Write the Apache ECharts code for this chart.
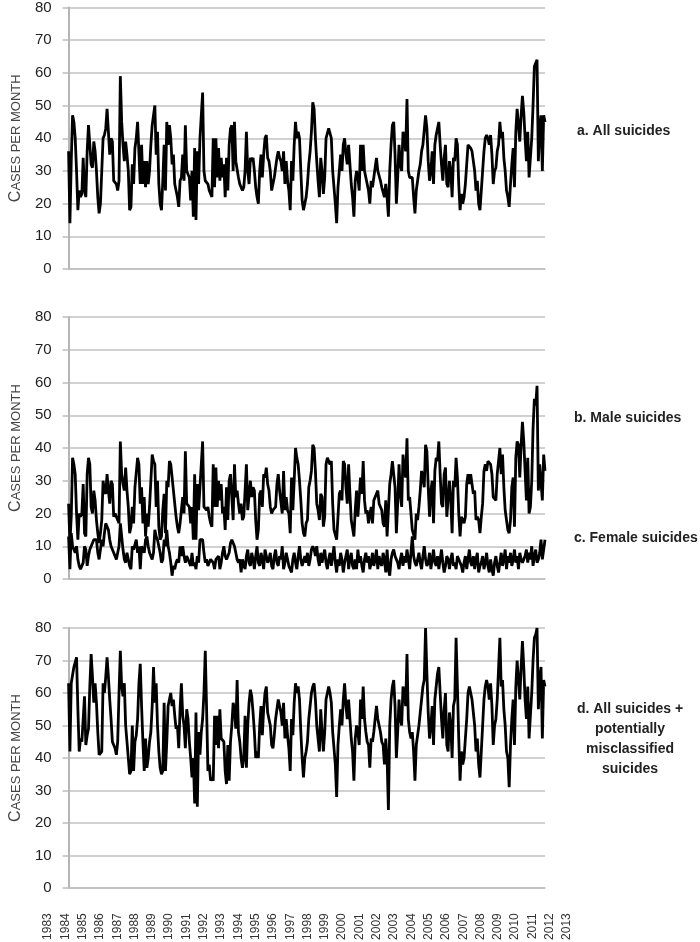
<!DOCTYPE html>
<html>
<head>
<meta charset="utf-8">
<script src="https://cdn.jsdelivr.net/npm/echarts@6/dist/echarts.min.js"></script>
<style>
  html, body { margin: 0; padding: 0; background: #fff; }
  #container { width: 700px; height: 942px; }
</style>
</head>
<body>
<div id="container"></div>
<script>
// tick labels for the bottom axis
var yearLabels = ['1983','1984','1985','1986','1987','1988','1989','1990','1991','1992',
  '1993','1994','1995','1996','1997','1998','1999','2000','2001','2002','2003','2004',
  '2005','2006','2007','2008','2009','2010','2011','2012','2013'];

// a. all suicides, monthly 1983-2012 (one row per year)
var allSuicides = [
  36,14,33,47,45,40,30,18,24,22,23,34,
  24,22,36,44,44,32,31,39,36,30,22,17,
  20,30,40,41,43,49,42,35,40,39,27,27,
  26,24,27,59,45,38,33,39,35,30,18,19,
  32,26,37,40,45,45,26,38,26,33,25,33,
  26,30,38,44,44,50,35,42,26,20,18,27,
  38,24,45,38,44,40,32,35,26,24,22,19,
  27,28,35,27,44,30,29,28,21,30,16,37,
  15,36,26,40,40,54,30,27,27,26,24,23,
  22,40,25,40,28,37,27,34,28,32,22,34,
  24,38,43,44,30,45,33,33,28,26,25,24,
  25,30,42,30,26,34,33,34,30,25,22,20,
  30,35,28,35,40,41,34,33,30,24,24,28,
  31,34,36,34,33,30,36,26,33,27,24,18,
  33,27,38,45,40,42,40,30,21,18,20,22,
  26,32,36,42,51,49,40,33,27,22,34,30,
  23,28,40,40,43,43,40,30,25,20,14,25,
  30,35,30,38,40,35,32,38,32,26,22,16,
  27,30,28,24,38,30,38,30,28,26,24,20,
  27,25,28,31,34,30,30,27,25,25,22,26,
  22,16,30,38,44,45,35,20,28,38,32,30,
  42,40,36,52,30,28,28,28,22,17,24,24,
  30,32,36,38,38,47,43,33,27,30,36,26,
  38,41,43,45,38,32,27,34,38,26,25,33,
  30,22,34,33,40,38,26,18,23,20,22,26,
  32,38,38,37,36,33,30,24,27,20,18,24,
  30,36,40,41,40,38,41,35,26,30,31,36,
  38,45,40,42,34,30,24,22,19,26,32,37,
  25,42,49,44,39,47,53,48,40,33,42,28,
  28,40,50,62,62,64,33,43,47,30,47,45
];

// b. male suicides
var maleSuicides = [
  23,11,19,37,35,32,20,12,20,19,20,29,
  14,13,32,37,35,22,20,27,24,18,14,11,
  14,18,30,27,26,32,27,23,30,29,19,20,
  20,18,17,42,32,29,27,34,27,22,14,16,
  22,17,28,28,37,35,23,28,17,25,13,20,
  16,22,30,38,36,35,22,30,16,12,13,21,
  26,14,30,28,36,35,31,31,23,19,16,14,
  17,21,25,20,39,23,23,22,17,22,12,32,
  12,29,21,28,28,42,22,22,21,22,19,17,
  16,35,22,34,22,30,24,29,20,22,15,28,
  18,30,32,32,18,35,25,27,23,20,23,18,
  19,27,35,21,21,30,25,28,27,18,12,15,
  26,27,22,32,31,34,29,27,22,20,21,21,
  22,29,32,27,27,20,33,21,25,21,20,14,
  31,21,30,40,37,35,30,24,17,14,13,17,
  18,28,30,33,41,40,33,23,21,18,26,25,
  16,19,35,37,37,35,36,23,15,15,12,19,
  26,27,24,36,35,28,23,35,26,18,18,13,
  21,27,19,19,31,26,36,24,20,21,17,17,
  22,17,24,25,25,27,23,22,21,17,16,24,
  13,13,29,32,36,36,28,14,23,35,26,22,
  38,33,31,43,24,25,20,15,15,12,20,18,
  22,27,33,31,28,41,39,28,19,27,30,17,
  33,37,36,42,32,23,22,32,34,19,19,30,
  24,14,30,28,37,31,20,13,19,18,17,19,
  29,32,29,32,32,26,27,18,19,18,14,19,
  23,33,35,33,36,36,35,32,25,25,24,32,
  36,40,32,38,28,21,21,15,14,18,28,31,
  16,37,42,41,31,41,48,42,33,24,37,20,
  22,30,46,55,53,59,27,35,35,24,38,33
];

// c. female suicides
var femaleSuicides = [
  13,3,14,10,10,8,10,6,4,3,3,5,
  10,9,4,7,9,10,11,12,12,12,8,6,
  6,12,10,14,17,17,15,12,10,10,8,7,
  6,6,10,17,13,9,6,5,8,8,4,3,
  10,9,9,12,8,10,3,10,9,8,12,13,
  10,8,8,6,8,15,13,12,10,8,5,6,
  12,10,15,10,8,5,1,4,3,5,6,5,
  10,7,10,7,5,7,6,6,4,8,4,5,
  3,7,5,12,12,12,8,5,6,4,5,6,
  6,5,3,6,6,7,3,5,8,10,7,6,
  6,8,11,12,12,10,8,6,5,6,2,6,
  6,3,7,9,5,4,8,6,3,7,10,5,
  4,8,6,3,9,7,5,6,8,4,3,7,
  9,5,4,7,6,10,3,5,8,6,4,4,
  2,6,8,5,3,7,10,6,4,4,7,5,
  8,4,6,9,10,9,7,10,6,4,8,5,
  7,9,5,3,6,8,4,7,10,5,2,6,
  4,8,6,2,5,7,9,3,6,8,4,3,
  6,3,9,5,7,4,2,6,8,5,7,3,
  5,8,4,6,9,3,7,5,4,8,6,2,
  9,3,1,6,8,9,7,6,5,3,6,8,
  4,7,5,9,6,3,8,13,7,5,4,6,
  8,5,3,7,10,6,4,5,8,3,6,9,
  5,4,7,3,6,9,5,2,4,7,6,3,
  6,8,4,5,3,7,6,5,4,2,5,7,
  3,6,9,5,4,7,3,6,8,2,4,5,
  7,3,5,8,4,2,6,3,1,5,7,4,
  2,5,8,4,6,9,3,7,5,8,4,6,
  9,5,7,3,8,6,5,6,7,9,5,8,
  6,10,4,7,9,5,6,8,12,6,9,12
];

// d. all suicides + potentially misclassified suicides
var allPlusMisclassified = [
  63,42,63,63,68,68,71,55,42,46,45,45,
  59,44,47,49,62,72,65,57,63,57,48,41,
  41,42,63,60,65,71,65,58,52,45,45,43,
  41,45,60,73,62,59,63,50,45,40,35,36,
  50,36,45,47,52,63,69,56,45,36,46,37,
  40,45,48,56,68,57,63,50,42,37,35,36,
  57,36,45,56,58,60,56,58,53,49,50,43,
  55,63,53,50,43,55,52,45,40,34,40,26,
  54,25,48,41,48,52,60,73,55,36,38,33,
  34,33,53,44,53,43,55,46,46,45,36,32,
  44,33,45,50,57,55,49,64,48,45,40,37,
  40,53,37,50,57,61,59,54,48,40,42,40,
  50,56,47,55,60,62,54,52,50,44,43,47,
  52,55,58,56,54,50,57,46,52,47,43,36,
  52,47,57,63,60,62,58,48,40,34,40,42,
  45,52,56,60,62,63,58,50,46,42,55,48,
  42,48,58,60,62,60,57,48,43,38,28,44,
  50,55,50,58,63,56,52,58,52,46,42,33,
  46,50,48,44,58,52,62,52,48,45,44,37,
  46,45,48,52,56,52,52,48,45,44,38,46,
  40,24,50,58,62,64,56,40,48,58,52,50,
  62,60,56,72,52,48,46,48,42,33,44,44,
  50,54,58,62,64,80,66,54,46,50,56,44,
  58,62,66,68,60,52,46,55,60,44,42,54,
  50,40,56,58,77,62,46,33,42,38,40,46,
  52,60,62,60,58,54,50,42,46,38,34,42,
  50,58,62,64,62,58,63,56,44,50,52,58,
  58,77,62,64,55,50,42,40,31,44,52,58,
  44,62,70,64,58,68,76,68,58,52,62,46,
  46,60,70,77,78,80,55,64,68,46,64,62
];

// month categories built from the year labels (1983-2012)
var months = [];
for (var i = 0; i < yearLabels.length - 1; i++) {
  for (var m = 1; m <= 12; m++) {
    months.push(yearLabels[i] + '-' + m);
  }
}

var fontMain = "'Liberation Sans', Arial, sans-serif";

function panelX(idx) {
  return {
    type: 'category',
    gridIndex: idx,
    data: months,
    boundaryGap: false,
    axisLine: { show: true, lineStyle: { color: '#bdbdbd', width: 1.5 } },
    axisTick: { show: false },
    axisLabel: { show: false },
    splitLine: { show: false }
  };
}

function panelY(idx) {
  return {
    type: 'value',
    gridIndex: idx,
    min: 0,
    max: 80,
    interval: 10,
    name: '{a|C}{b|ASES PER MONTH}',
    nameLocation: 'middle',
    nameRotate: 90,
    nameGap: 43,
    nameTextStyle: {
      rich: {
        a: { fontSize: 16, color: '#444', fontFamily: fontMain },
        b: { fontSize: 13, color: '#444', fontFamily: fontMain }
      }
    },
    axisLine: { show: true, lineStyle: { color: '#b5b5b5', width: 2 } },
    axisTick: { show: true, length: 6, lineStyle: { color: '#bdbdbd', width: 1.5 } },
    axisLabel: { fontSize: 15, color: '#222', fontFamily: fontMain, margin: 17 },
    splitLine: { show: true, lineStyle: { color: '#c2c2c2', width: 1.5 } }
  };
}

function lineSeries(data, xi) {
  return {
    type: 'line',
    xAxisIndex: xi,
    yAxisIndex: xi,
    data: data,
    symbol: 'none',
    lineStyle: { color: '#000', width: 2.8 },
    z: 3
  };
}

var dom = document.getElementById('container');
var myChart = echarts.init(dom, null, { renderer: 'canvas' });

var option = {
  backgroundColor: '#fff',
  animation: false,
  grid: [
    { left: 59, top: 5, width: 486, height: 264 },
    { left: 59, top: 317, width: 486, height: 262 },
    { left: 57, top: 628, width: 488, height: 260 },
    // strip only used for the year labels
    { left: 48, top: 895, width: 519, height: 1 }
  ],
  xAxis: [
    panelX(0),
    panelX(1),
    panelX(2),
    {
      type: 'category',
      gridIndex: 3,
      data: yearLabels,
      boundaryGap: false,
      axisLine: { show: false },
      axisTick: { show: false },
      axisLabel: { rotate: 90, fontSize: 12, color: '#333', fontFamily: fontMain, margin: 18, interval: 0 }
    }
  ],
  yAxis: [
    panelY(0),
    panelY(1),
    panelY(2),
    { type: 'value', gridIndex: 3, show: false }
  ],
  series: [
    lineSeries(allSuicides, 0),
    lineSeries(maleSuicides, 1),
    lineSeries(femaleSuicides, 1),
    lineSeries(allPlusMisclassified, 2)
  ],
  graphic: [
    { type: 'text', left: 577, top: 124, style: { text: 'a. All suicides', font: 'bold 14px ' + fontMain, fill: '#222' } },
    { type: 'text', left: 574, top: 411, style: { text: 'b. Male suicides', font: 'bold 14px ' + fontMain, fill: '#222' } },
    { type: 'text', left: 574, top: 531, style: { text: 'c. Female suicides', font: 'bold 14px ' + fontMain, fill: '#222' } },
    {
      type: 'text', x: 630, y: 699,
      style: {
        text: 'd. All suicides +\npotentially\nmisclassified\nsuicides',
        font: 'bold 14px ' + fontMain, fill: '#222', align: 'center', lineHeight: 20
      }
    }
  ]
};

if (option && typeof option === 'object') {
  myChart.setOption(option, true);
}
</script>
</body>
</html>
